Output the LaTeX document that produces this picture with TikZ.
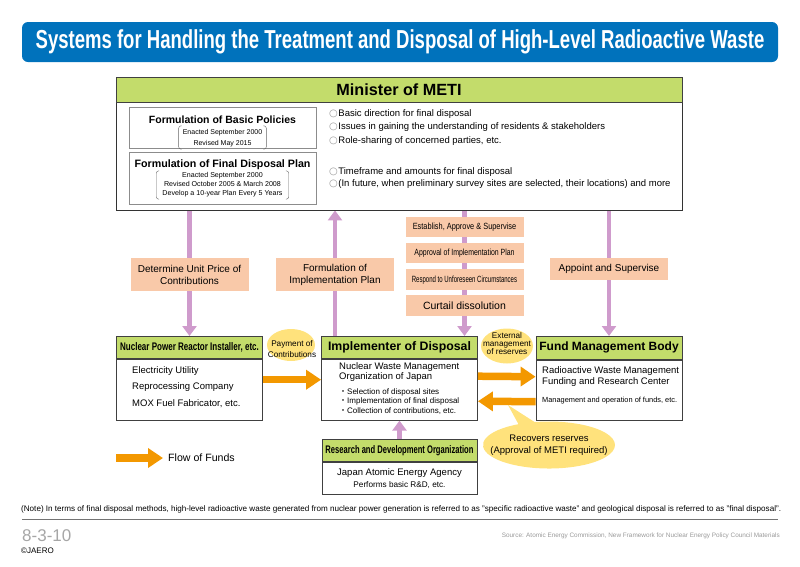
\documentclass[tikz,border=0pt]{standalone}
\usepackage{fontspec}
\usepackage{graphicx}
\setmainfont{Liberation Sans}
\newfontfamily\symfont{DejaVu Sans}
\newfontfamily\cjk{Noto Sans CJK JP}
\usetikzlibrary{arrows.meta,shapes.geometric,shapes.callouts,backgrounds,positioning}

\definecolor{titleblue}{HTML}{0072BC}
\definecolor{headgreen}{HTML}{C3DC6B}
\definecolor{labelpink}{HTML}{F9C9A9}
\definecolor{linkviolet}{HTML}{CF9BCC}
\definecolor{fundorange}{HTML}{F39800}
\definecolor{noteyellow}{HTML}{FFE27C}

\newcommand\fsz[2]{\fontsize{#1}{#2}\selectfont}
\newcommand\narrow[2][0.7]{\scalebox{#1}[1]{#2}}
\newcommand\circitem{{\symfont\fsz{10}{10}\color{black!40}○}\hspace{0.5pt}}
\newcommand\dotitem{{\cjk ・}}

\begin{document}
\begin{tikzpicture}[x=1pt,y=-1pt,
  head node/.style={draw=black!75,fill=headgreen,line width=0.8pt,inner sep=0pt,anchor=north},
  body node/.style={draw=black!75,fill=white,line width=0.8pt,inner sep=0pt,anchor=north},
  info node/.style={draw=black!45,line width=0.6pt,inner sep=0pt},
  bracket/.style={draw=black!60,line width=0.4pt,rounded corners=2.5pt},
  text line/.style={anchor=west,align=left,inner sep=0pt},
  label node/.style={fill=labelpink,inner sep=0pt,align=center,minimum width=118pt},
  balloon/.style={ellipse,fill=noteyellow,inner sep=0pt},
  link/.style={draw=linkviolet,line width=4.5pt,-{Triangle[width=14pt,length=10pt]}},
  funds/.style={draw=fundorange,line width=7.5pt,-{Triangle[width=19pt,length=15pt]}}, ]

  \useasboundingbox (0,0) rectangle (800,566);

  % title banner
  \node[fill=titleblue,rounded corners=6pt,minimum width=756pt,minimum height=40pt,
    inner sep=0pt,text=white,font=\bfseries\fsz{26}{30}] (title) at (400,42)
    {\narrow[0.713]{Systems for Handling the Treatment and Disposal of High-Level Radioactive Waste}};

  % minister of METI
  \node[draw=black!80,line width=0.8pt,minimum width=566pt,minimum height=133pt,inner sep=0pt] (meti) at (399,143.5) {};
  \node[head node,minimum width=566pt,minimum height=25pt,font=\bfseries\fsz{16.2}{18}] (metihead) at (meti.north) {Minister of METI};

  \node[info node,minimum width=187pt,minimum height=41pt] (policy) at (222.5,128) {};
  \node[font=\bfseries\fsz{10.5}{12}] (policytitle) at (222.5,119.5) {Formulation of Basic Policies};
  \node[inner xsep=4pt,inner ysep=0.5pt,font=\fsz{7}{11}] (policydates) at (222.5,137.5)
    {\begin{tabular}{@{}c@{}}Enacted September 2000\\Revised May 2015\end{tabular}};
  \draw[bracket] ([xshift=3pt]policydates.north west) -- (policydates.north west)
    -- (policydates.south west) -- ([xshift=3pt]policydates.south west);
  \draw[bracket] ([xshift=-3pt]policydates.north east) -- (policydates.north east)
    -- (policydates.south east) -- ([xshift=-3pt]policydates.south east);

  \node[info node,minimum width=187pt,minimum height=51.5pt] (plan) at (222.5,178.5) {};
  \node[font=\bfseries\fsz{10.7}{12}] (plantitle) at (222.5,164.5) {Formulation of Final Disposal Plan};
  \node[inner xsep=6pt,inner ysep=0.5pt,font=\fsz{7.1}{9}] (plandates) at (222.5,185)
    {\begin{tabular}{@{}c@{}}Enacted September 2000\\Revised October 2005 \& March 2008\\Develop a 10-year Plan Every 5 Years\end{tabular}};
  \draw[bracket] ([xshift=3pt]plandates.north west) -- (plandates.north west)
    -- (plandates.south west) -- ([xshift=3pt]plandates.south west);
  \draw[bracket] ([xshift=-3pt]plandates.north east) -- (plandates.north east)
    -- (plandates.south east) -- ([xshift=-3pt]plandates.south east);

  \node[text line,font=\fsz{9.5}{13.2}] (policyitems) at (329,127.5)
    {\circitem Basic direction for final disposal\\
     \circitem Issues in gaining the understanding of residents \& stakeholders\\
     \circitem Role-sharing of concerned parties, etc.};
  \node[text line,font=\fsz{9.5}{12.6}] (planitems) at (329,178)
    {\circitem Timeframe and amounts for final disposal\\
     \circitem (In future, when preliminary survey sites are selected, their locations) and more};

  % organizations
  \node[head node,minimum width=145.5pt,minimum height=22pt,font=\bfseries\fsz{11}{13}] (insthead) at (189.5,336)
    {\narrow[0.73]{Nuclear Power Reactor Installer, etc.}};
  \node[body node,minimum width=145.5pt,minimum height=61pt] (instbody) at (insthead.south) {};
  \node[text line,font=\fsz{9.5}{16.2}] (insttext) at (132,387)
    {Electricity Utility\\Reprocessing Company\\MOX Fuel Fabricator, etc.};

  \node[head node,minimum width=156pt,minimum height=22pt,font=\bfseries\fsz{12.3}{14}] (implhead) at (399.5,336)
    {Implementer of Disposal};
  \node[body node,minimum width=156pt,minimum height=61pt] (implbody) at (implhead.south) {};
  \node[text line,font=\fsz{9.5}{10.6}] (implname) at (339,372)
    {Nuclear Waste Management\\Organization of Japan};
  \node[text line,font=\fsz{8}{9.5}] (impltasks) at (339,401.2)
    {\dotitem Selection of disposal sites\\
     \dotitem Implementation of final disposal\\
     \dotitem Collection of contributions, etc.};

  \node[head node,minimum width=146pt,minimum height=23pt,font=\bfseries\fsz{12}{14}] (fundhead) at (609,336)
    {Fund Management Body};
  \node[body node,minimum width=146pt,minimum height=60pt] (fundbody) at (fundhead.south) {};
  \node[text line,font=\fsz{9.5}{11.6}] (fundname) at (542,376.5)
    {Radioactive Waste Management\\Funding and Research Center};
  \node[text line,font=\fsz{7.4}{9}] (fundtask) at (542,400.7)
    {Management and operation of funds, etc.};

  \node[head node,minimum width=155pt,minimum height=22pt,font=\bfseries\fsz{11}{13}] (rdhead) at (399.5,439)
    {\narrow[0.69]{Research and Development Organization}};
  \node[body node,minimum width=155pt,minimum height=32pt] (rdbody) at (rdhead.south) {};
  \node[font=\fsz{9.5}{11},inner sep=0pt] (rdname) at (399.5,472.7) {Japan Atomic Energy Agency};
  \node[font=\fsz{8.2}{10},inner sep=0pt] (rdtask) at (399.5,485) {Performs basic R\&D, etc.};

  % labels on the links
  \node[label node,minimum height=32.5pt,font=\fsz{10}{11.5}] (unitprice) at (189.5,274.7)
    {Determine Unit Price of\\Contributions};
  \node[label node,minimum height=32.5pt,font=\fsz{10}{11.5}] (implplan) at (335,274.7)
    {Formulation of\\Implementation Plan};
  \node[label node,minimum height=22pt,font=\fsz{10}{11.5}] (appoint) at (609,269.2)
    {Appoint and Supervise};
  \node[label node,minimum height=20.5pt,font=\fsz{9}{11}] (establish) at (464.5,227)
    {\narrow[0.82]{Establish, Approve \& Supervise}};
  \node[label node,minimum height=20.5pt,font=\fsz{9}{11}] (approval) at (464.5,253)
    {\narrow[0.77]{Approval of Implementation Plan}};
  \node[label node,minimum height=20.5pt,font=\fsz{9}{11}] (respond) at (464.5,279.7)
    {\narrow[0.67]{Respond to Unforeseen Circumstances}};
  \node[label node,minimum height=21pt,font=\fsz{10.5}{12}] (curtail) at (464.5,305.5)
    {Curtail dissolution};

  \begin{scope}[on background layer]
    \draw[link] (meti.south -| unitprice) -- (insthead.north -| unitprice);
    \draw[link] (implhead.north -| implplan) -- (meti.south -| implplan);
    \draw[link] (meti.south -| establish) -- (implhead.north -| establish);
    \draw[link] (meti.south -| appoint) -- (fundhead.north -| appoint);
    \draw[link] (rdhead.north) -- (implbody.south);
  \end{scope}

  % balloons
  \node[balloon,minimum width=48pt,minimum height=32pt] (payment) at (291,345) {};
  \node[align=center,inner sep=0pt,font=\fsz{8.2}{11}] (paymenttext) at (292,349)
    {Payment of\\Contributions};
  \node[balloon,minimum width=52pt,minimum height=35pt] (external) at (507,346) {};
  \node[align=center,inner sep=0pt,font=\fsz{8.2}{8.4}] (externaltext) at (507,343.5)
    {External\\management\\of reserves};
  \coordinate (tailtip) at (508,405);
  \node[ellipse callout,fill=noteyellow,inner sep=0pt,minimum width=132pt,minimum height=47pt,
    callout absolute pointer={(tailtip)}] (recovers) at (549,445) {};
  \node[align=center,inner sep=0pt,font=\fsz{9.5}{11.7}] (recoverstext) at (549,445)
    {Recovers reserves\\(Approval of METI required)};

  % flow of funds
  \draw[funds] ([yshift=10pt]instbody.east) -- ([yshift=10pt]implbody.west);
  \draw[funds] ([yshift=13.5pt]implbody.east) -- ([yshift=13.5pt]fundbody.west);
  \draw[funds] ([yshift=-11.5pt]fundbody.west) -- ([yshift=-11.5pt]implbody.east);

  \coordinate (legtail) at (116,458);
  \coordinate (leghead) at (163,458);
  \draw[funds] (legtail) -- (leghead);
  \node[anchor=west,inner sep=0pt,font=\fsz{10.6}{12}] (legend) at (168,458) {Flow of Funds};

  % footer
  \node[anchor=west,inner sep=0pt,font=\fsz{8.1}{9}] (note) at (21,509)
    {(Note) In terms of final disposal methods, high-level radioactive waste generated from nuclear power generation is referred to as "specific radioactive waste" and geological disposal is referred to as "final disposal".};
  \draw[black!55,line width=1pt] (22,519) -- (778,519);
  \node[anchor=west,inner sep=0pt,text=black!35,font=\fsz{17}{19}] (pageno) at (22,536) {8-3-10};
  \node[anchor=west,inner sep=0pt,font=\fsz{8}{9}] (jaero) at (21,551) {©JAERO};
  \node[anchor=east,inner sep=0pt,text=black!40,font=\fsz{6.4}{8}] (source) at (780,536)
    {Source: Atomic Energy Commission, New Framework for Nuclear Energy Policy Council Materials};
\end{tikzpicture}
\end{document}
